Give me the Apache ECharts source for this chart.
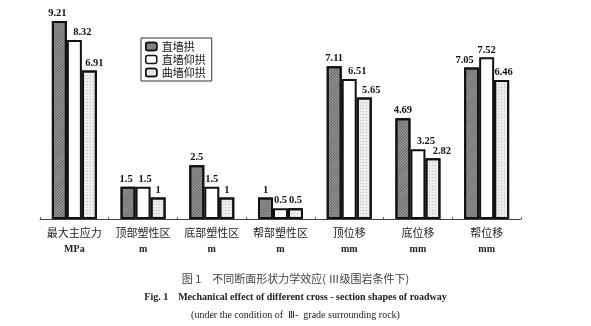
<!DOCTYPE html>
<html><head><meta charset="utf-8">
<script src="https://cdn.jsdelivr.net/npm/echarts@6/dist/echarts.min.js"></script>
<style>html,body{margin:0;padding:0;background:#fff}#c{width:591px;height:326px}</style>
</head><body><div id="c"></div>
<script>
const categories = ['最大主应力', '顶部塑性区', '底部塑性区', '帮部塑性区', '顶位移', '底位移', '帮位移'];
const units = ['MPa', 'm', 'm', 'm', 'mm', 'mm', 'mm'];
const seriesNames = ['直墙拱', '直墙仰拱', '曲墙仰拱'];
const straightArch = [9.21, 1.5, 2.5, 1, 7.11, 4.69, 7.05];
const straightInvert = [8.32, 1.5, 1.5, 0.5, 6.51, 3.25, 7.52];
const curvedInvert = [6.91, 1, 1, 0.5, 5.65, 2.82, 6.46];
const captions = ['图 1　不同断面形状力学效应( Ⅲ级围岩条件下)',
  'Fig. 1　Mechanical effect of different cross - section shapes of roadway',
  '(under the condition of  Ⅲ-  grade surrounding rock)'];

// label horizontal nudges (style only), per series per category
const labelShift = [
  [-2, -2, 0, 0, 0, 0, -7],
  [8, 2, 0, 0, 8, 8, 0],
  [5, 0, 0, 0, 7, 9, 2]
];

const chart = echarts.init(document.getElementById('c'));
const styles = [
  {color: '#a0a0a0', borderColor: '#111', borderWidth: 2,
   decal: {symbol: 'rect', dashArrayX: [1, 0], dashArrayY: [1, 1], rotation: -Math.PI / 4, color: 'rgba(40,40,40,0.5)'}},
  {color: '#ffffff', borderColor: '#111', borderWidth: 2},
  {color: '#ececec', borderColor: '#111', borderWidth: 2,
   decal: {symbol: 'rect', dashArrayX: [1, 2], dashArrayY: [1, 2], symbolSize: 1, color: 'rgba(150,150,150,0.5)'}}
];
const datasets = [straightArch, straightInvert, curvedInvert];
chart.setOption({
  animation: false,
  backgroundColor: '#fff',
  grid: {left: 40, right: 70, top: 4, bottom: 107},
  legend: {
    show: true, left: 141, top: 38, orient: 'vertical',
    itemWidth: 11, itemHeight: 8, itemGap: 2, padding: [3, 6, 3, 4],
    borderColor: '#333', borderWidth: 1,
    textStyle: {fontFamily: 'Noto Sans CJK SC', fontSize: 11, color: '#111'},
    data: seriesNames.map((n, i) => ({name: n, itemStyle: {color: styles[i].color, borderColor: '#111', borderWidth: 1.5}}))
  },
  xAxis: {
    type: 'category', data: categories,
    axisLine: {show: true, lineStyle: {color: '#444', width: 1}},
    axisTick: {show: true, inside: true, length: 2, lineStyle: {color: '#666'}},
    axisLabel: {
      interval: 0, margin: 6,
      formatter: (v, i) => '{a|' + v + '}\n{b|' + units[i] + '}',
      rich: {
        a: {fontFamily: 'Noto Sans CJK SC', fontSize: 11, color: '#222', lineHeight: 16},
        b: {fontFamily: 'Liberation Serif, serif', fontWeight: 'bold', fontSize: 10, color: '#222', lineHeight: 16}
      }
    }
  },
  yAxis: {type: 'value', min: 0, max: 10, show: false, splitLine: {show: false}},
  series: seriesNames.map((n, i) => ({
    name: n, type: 'bar',
    data: datasets[i].map((v, j) => ({value: v, label: {offset: [labelShift[i][j], 0]}})),
    barWidth: 15, barGap: '0%', barCategoryGap: '33%',
    itemStyle: styles[i],
    label: {show: true, position: 'top', distance: 2, color: '#111', fontFamily: 'Liberation Serif, serif', fontWeight: 'bold', fontSize: 10.5}
  })),
  graphic: [
    {type: 'text', left: 'center', top: 273, style: {text: captions[0], font: '11px "Noto Sans CJK SC"', fill: '#444'}},
    {type: 'text', left: 'center', top: 292, style: {text: captions[1], font: 'bold 10px "Liberation Serif"', fill: '#222'}},
    {type: 'text', left: 'center', top: 310, style: {text: captions[2], font: '10px "Liberation Serif"', fill: '#222'}}
  ]
});
</script></body></html>
